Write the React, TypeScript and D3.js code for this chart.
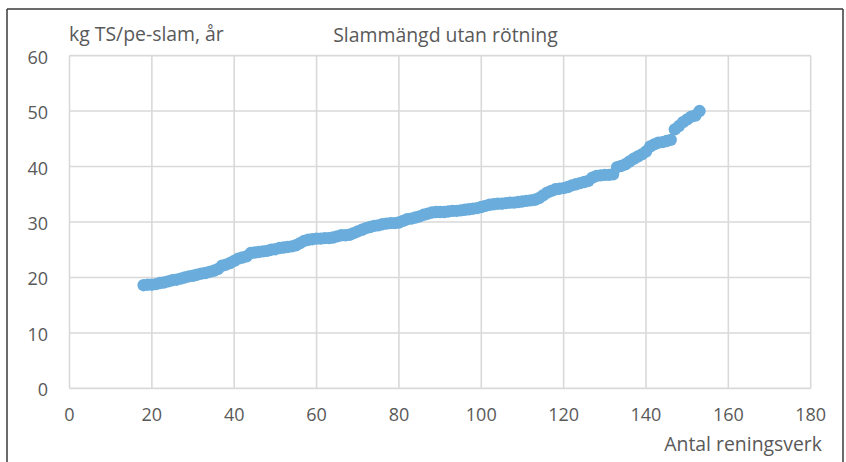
import React from "react";
import * as d3 from "d3";

const title = "Slammängd utan rötning";
const yTitle = "kg TS/pe-slam, år";
const xTitle = "Antal reningsverk";
const xTicks = [0, 20, 40, 60, 80, 100, 120, 140, 160, 180];
const yTicks = [0, 10, 20, 30, 40, 50, 60];
const firstPlant = 18;
const values = [
  18.6, 18.7, 18.7, 18.8, 19.0, 19.1, 19.3, 19.5, 19.6, 19.8,
  20.0, 20.2, 20.3, 20.5, 20.7, 20.8, 21.0, 21.2, 21.5, 22.1,
  22.3, 22.6, 23.0, 23.4, 23.6, 23.8, 24.4, 24.5, 24.6, 24.7,
  24.8, 25.0, 25.1, 25.3, 25.4, 25.5, 25.6, 25.8, 26.2, 26.6,
  26.8, 26.9, 27.0, 27.0, 27.1, 27.1, 27.2, 27.4, 27.6, 27.6,
  27.7, 28.0, 28.3, 28.6, 28.9, 29.1, 29.3, 29.4, 29.6, 29.7,
  29.8, 29.8, 29.9, 30.2, 30.5, 30.6, 30.8, 31.0, 31.3, 31.5,
  31.7, 31.8, 31.8, 31.8, 31.9, 32.0, 32.0, 32.1, 32.2, 32.3,
  32.4, 32.5, 32.7, 32.9, 33.1, 33.2, 33.3, 33.3, 33.4, 33.5,
  33.5, 33.6, 33.7, 33.8, 33.9, 34.0, 34.3, 34.8, 35.3, 35.6,
  35.9, 36.0, 36.1, 36.3, 36.6, 36.8, 37.0, 37.2, 37.4, 38.0,
  38.3, 38.4, 38.5, 38.5, 38.6, 39.9, 40.1, 40.4, 40.9, 41.4,
  41.8, 42.2, 42.7, 43.6, 44.0, 44.3, 44.4, 44.6, 44.8, 46.7,
  47.3, 48.0, 48.5, 49.0, 49.2, 50.0,
];

const W = 846;
const H = 462;
const FONT = "'Open Sans', sans-serif";
const TEXT = "#595959";

export default function App() {
  const x = d3.scaleLinear().domain([0, 180]).range([69.5, 810.7]);
  const y = d3.scaleLinear().domain([0, 60]).range([388.4, 55.6]);
  const pts = values.map((v, i) => ({ n: firstPlant + i, v }));

  return (
    <svg
      width={W}
      height={H}
      style={{ position: "absolute", left: 0, top: 0, background: "#fff" }}
      fontFamily={FONT}
    >
      <rect x={0} y={0} width={W} height={H} fill="#fff" />
      {/* frame */}
      <line x1={7} y1={9} x2={843} y2={9} stroke="#3a3a3a" strokeWidth={1.5} />
      <line x1={7} y1={9} x2={7} y2={H} stroke="#3a3a3a" strokeWidth={1.5} />
      <line x1={843} y1={9} x2={843} y2={H} stroke="#3a3a3a" strokeWidth={1.5} />

      {/* grid */}
      {yTicks.map((t) => (
        <line key={"gy" + t} x1={x(0)} x2={x(180)} y1={y(t)} y2={y(t)} stroke="#d9d9d9" strokeWidth={1.6} />
      ))}
      {xTicks.map((t) => (
        <line key={"gx" + t} x1={x(t)} x2={x(t)} y1={y(0)} y2={y(60)} stroke="#d9d9d9" strokeWidth={1.6} />
      ))}

      {/* tick labels */}
      {yTicks.map((t) => (
        <text key={"ty" + t} x={48} y={y(t) + 8} textAnchor="end" fontSize={18} fill={TEXT}>
          {t}
        </text>
      ))}
      {xTicks.map((t) => (
        <text key={"tx" + t} x={x(t)} y={421} textAnchor="middle" fontSize={18} fill={TEXT}>
          {t}
        </text>
      ))}

      {/* titles */}
      <text x={69} y={41} fontSize={19.4} fill={TEXT}>{yTitle}</text>
      <text x={445.5} y={42} textAnchor="middle" fontSize={19.4} fill={TEXT}>{title}</text>
      <text x={822} y={451} textAnchor="end" fontSize={19.4} fill={TEXT}>{xTitle}</text>

      {/* points */}
      {pts.map((p) => (
        <circle key={p.n} cx={x(p.n)} cy={y(p.v)} r={6.2} fill="#6aaddc" />
      ))}
    </svg>
  );
}
